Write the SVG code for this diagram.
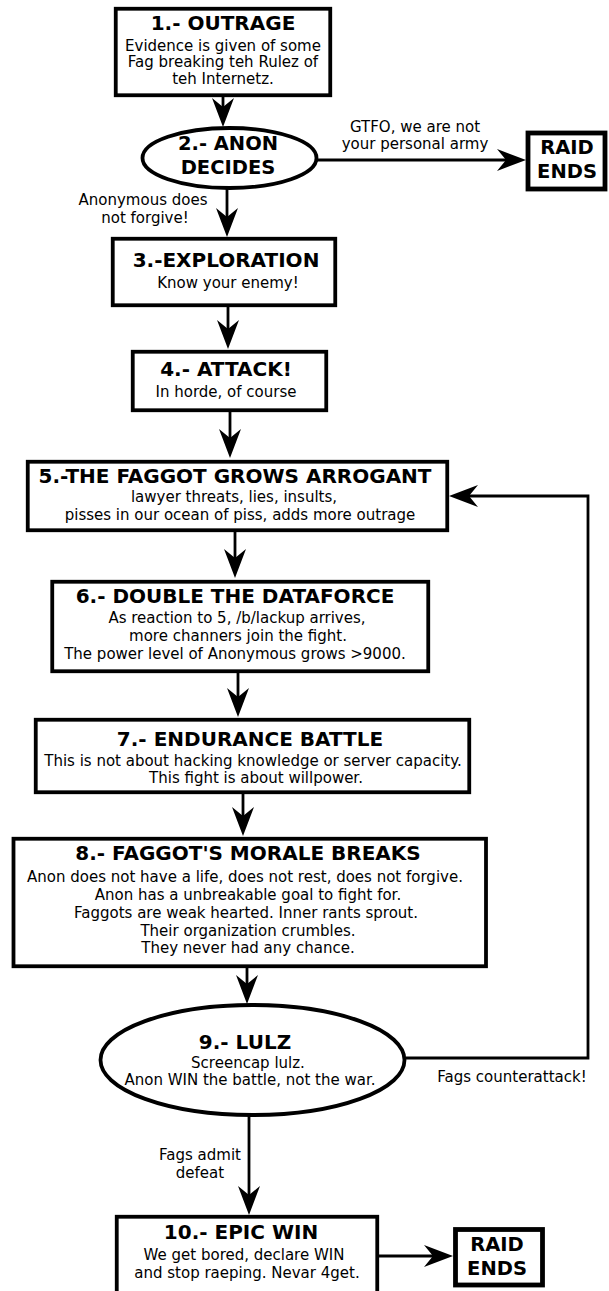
<svg xmlns="http://www.w3.org/2000/svg" width="609" height="1291" viewBox="0 0 609 1291">
<style>
.bx{fill:#fff;stroke:#000;stroke-width:3.8}
.rb{fill:#fff;stroke:#000;stroke-width:4.8}
.t{font-family:"DejaVu Sans","Liberation Sans",sans-serif;font-weight:bold;font-size:20px;fill:#000;text-anchor:middle}
.t2{font-size:19.5px}
.b{font-family:"DejaVu Sans","Liberation Sans",sans-serif;font-size:15px;fill:#000;text-anchor:middle}
.c{fill:none;stroke:#000;stroke-width:2.8}
</style>
<defs>
<marker id="ah" markerUnits="userSpaceOnUse" markerWidth="29" markerHeight="22" viewBox="0 0 29 22" refX="23" refY="11" orient="auto">
<path d="M0,0 L29,11 L0,22 L9,11 Z" fill="#000"/>
</marker>
</defs>
<rect width="609" height="1291" fill="#fff"/>
<g id="connectors">
<path class="c" d="M223,97 V121" marker-end="url(#ah)"/>
<path class="c" d="M317,160 H520" marker-end="url(#ah)"/>
<path class="c" d="M227,189 V231" marker-end="url(#ah)"/>
<path class="c" d="M228,307 V343" marker-end="url(#ah)"/>
<path class="c" d="M230,412 V452" marker-end="url(#ah)"/>
<path class="c" d="M235,532 V572" marker-end="url(#ah)"/>
<path class="c" d="M238,673 V711" marker-end="url(#ah)"/>
<path class="c" d="M243,794 V830" marker-end="url(#ah)"/>
<path class="c" d="M247,968 V998" marker-end="url(#ah)"/>
<path class="c" d="M406,1058 H588 V496 H455" marker-end="url(#ah)"/>
<path class="c" d="M249,1116 V1209" marker-end="url(#ah)"/>
<path class="c" d="M379,1256 H447" marker-end="url(#ah)"/>
<text class="b" x="415" y="132">GTFO, we are not</text>
<text class="b" x="415" y="149">your personal army</text>
<text class="b" x="143" y="205">Anonymous does</text>
<text class="b" x="145" y="223">not forgive!</text>
<text class="b" x="512" y="1082">Fags counterattack!</text>
<text class="b" x="200" y="1160">Fags admit</text>
<text class="b" x="200" y="1178">defeat</text>
</g>
<g id="n1">
<rect class="bx" x="115.75" y="8.75" width="214.5" height="86.5"/>
<text class="t" x="223" y="30">1.- OUTRAGE</text>
<text class="b" x="223" y="51">Evidence is given of some</text>
<text class="b" x="223" y="67">Fag breaking teh Rulez of</text>
<text class="b" x="223" y="84">teh Internetz.</text>
</g>
<g id="n2">
<ellipse class="bx" cx="229.5" cy="158" rx="87" ry="30"/>
<text class="t t2" x="228" y="150">2.- ANON</text>
<text class="t t2" x="228" y="173.5">DECIDES</text>
</g>
<g id="raid1">
<rect class="rb" x="528" y="133" width="77" height="56"/>
<text class="t t2" x="567" y="154">RAID</text>
<text class="t t2" x="567" y="177.5">ENDS</text>
</g>
<g id="n3">
<rect class="bx" x="112.75" y="238.75" width="222.5" height="66.5"/>
<text class="t" x="226" y="267">3.-EXPLORATION</text>
<text class="b" x="228" y="288">Know your enemy!</text>
</g>
<g id="n4">
<rect class="bx" x="132.75" y="351.75" width="193.5" height="58.5"/>
<text class="t" x="226" y="376">4.- ATTACK!</text>
<text class="b" x="226" y="397">In horde, of course</text>
</g>
<g id="n5">
<rect class="bx" x="27.75" y="461.75" width="419.5" height="68.5"/>
<text class="t" x="235" y="483">5.-THE FAGGOT GROWS ARROGANT</text>
<text class="b" x="234" y="502">lawyer threats, lies, insults,</text>
<text class="b" x="240" y="520">pisses in our ocean of piss, adds more outrage</text>
</g>
<g id="n6">
<rect class="bx" x="52.25" y="581.75" width="376" height="89.5"/>
<text class="t" x="235" y="603">6.- DOUBLE THE DATAFORCE</text>
<text class="b" x="237" y="623">As reaction to 5, /b/lackup arrives,</text>
<text class="b" x="238" y="641">more channers join the fight.</text>
<text class="b" x="235" y="659">The power level of Anonymous grows &gt;9000.</text>
</g>
<g id="n7">
<rect class="bx" x="35.75" y="719.75" width="433.5" height="72.5"/>
<text class="t" x="250" y="746">7.- ENDURANCE BATTLE</text>
<text class="b" x="253" y="766">This is not about hacking knowledge or server capacity.</text>
<text class="b" x="256" y="783">This fight is about willpower.</text>
</g>
<g id="n8">
<rect class="bx" x="13.5" y="838.75" width="472.5" height="127.5"/>
<text class="t" x="248" y="860">8.- FAGGOT'S MORALE BREAKS</text>
<text class="b" x="245" y="882">Anon does not have a life, does not rest, does not forgive.</text>
<text class="b" x="248" y="900">Anon has a unbreakable goal to fight for.</text>
<text class="b" x="246" y="918">Faggots are weak hearted. Inner rants sprout.</text>
<text class="b" x="248" y="936">Their organization crumbles.</text>
<text class="b" x="248" y="953">They never had any chance.</text>
</g>
<g id="n9">
<ellipse class="bx" cx="252.5" cy="1060" rx="152" ry="55"/>
<text class="t" x="245" y="1049">9.- LULZ</text>
<text class="b" x="248" y="1068">Screencap lulz.</text>
<text class="b" x="250" y="1085">Anon WIN the battle, not the war.</text>
</g>
<g id="n10">
<rect class="bx" x="116.75" y="1216.75" width="260.5" height="81"/>
<text class="t" x="241" y="1239">10.- EPIC WIN</text>
<text class="b" x="244" y="1260">We get bored, declare WIN</text>
<text class="b" x="247" y="1278">and stop raeping. Nevar 4get.</text>
</g>
<g id="raid2">
<rect class="rb" x="455.5" y="1229.5" width="87" height="55.5"/>
<text class="t t2" x="497" y="1251">RAID</text>
<text class="t t2" x="497" y="1274.5">ENDS</text>
</g>
</svg>
